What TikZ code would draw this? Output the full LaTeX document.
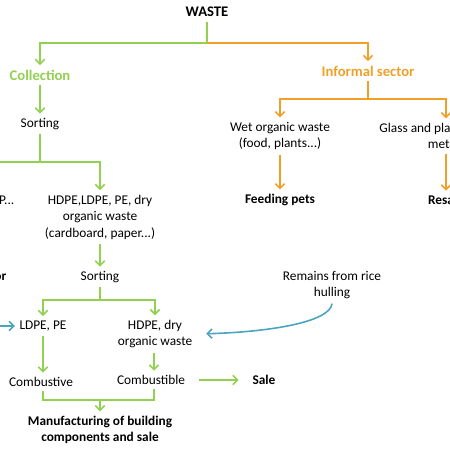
\documentclass[tikz,border=0pt]{standalone}
\usepackage{fontspec}
\setmainfont{Carlito}
\usetikzlibrary{arrows.meta}
\definecolor{grn}{RGB}{146,208,80}
\definecolor{org}{RGB}{240,160,40}
\definecolor{blu}{RGB}{75,165,190}
\tikzset{>={Straight Barb[length=3.5pt,width=7pt]}}
\tikzset{
  txt/.style={font=\fontsize{10}{12.4}\selectfont, align=center},
  bld/.style={font=\fontsize{10}{12.4}\selectfont\bfseries, align=center},
  head/.style={font=\fontsize{11}{13}\selectfont\bfseries},
  gline/.style={draw=grn, line width=1.2pt},
  garr/.style={gline, ->},
  oline/.style={draw=org, line width=1.2pt},
  oarr/.style={oline, ->},
  barr/.style={draw=blu, line width=1.2pt, ->},
}

\begin{document}
\begin{tikzpicture}[x=0.75pt,y=-0.75pt]
\useasboundingbox (0,0) rectangle (450,450);
\clip (0,0) rectangle (450,450);
\node[head] (waste) at (207,12) {WASTE};
\coordinate (wj) at (207,43);
\node[head, text=grn] (coll) at (40,75) {Collection};
\node[head, text=org] (inf) at (368,71) {Informal sector};
\draw[gline] (waste) -- (wj);
\draw[garr] (wj) -| (coll);
\draw[oarr] (wj) -| (inf);
% collection side
\node[txt] (sort1) at (40,124) {Sorting};
\draw[garr] (coll) -- (sort1);
\coordinate (j1) at (40,162);
\node[txt, anchor=east] (pet) at (19,201) {PVC, PET, PP...};
\node[txt] (hdpe) at (100,217) {HDPE,LDPE, PE, dry\\organic waste\\(cardboard, paper...)};
\draw[gline] (sort1) -- (j1);
\draw[garr] (j1) -| (hdpe);
\draw[garr] (j1) -| (pet);
\node[bld, anchor=east] (recyc) at (11,277) {Recycling sector};
\node[txt] (sort2) at (100,277) {Sorting};
\draw[garr] (hdpe) -- (sort2);
\coordinate (j3) at (100,300);
\node[txt] (ldpe) at (43,326) {LDPE, PE};
\node[txt] (hdpe2) at (155,334) {HDPE, dry\\organic waste};
\draw[gline] (sort2) -- (j3);
\draw[garr] (j3) -| (ldpe);
\draw[garr] (j3) -| (hdpe2);
\node[txt] (comb1) at (41,382) {Combustive};
\node[txt] (comb2) at (151,380) {Combustible};
\draw[garr] (ldpe) -- (ldpe |- comb1.north);
\draw[garr] (hdpe2.south -| 154,0) -- (154,0 |- comb2.north);
\node[bld] (sale) at (264,380) {Sale};
\draw[garr, shorten <=7pt, shorten >=7pt] (comb2) -- (sale);
\coordinate (j4) at (100,400);
\node[bld] (manu) at (100,430) {Manufacturing of building\\components and sale};
\draw[gline] (comb1.south -| ldpe) -- (ldpe |- j4) -- (154,0 |- j4) -- (154,0 |- comb2.south);
\draw[garr] (j4) -- (manu);
% rice husk input
\node[txt] (rice) at (332,285) {Remains from rice\\hulling};
\draw[barr, shorten >=7pt] (rice.south) .. controls (330,322) and (270,332) .. (hdpe2.east);
\coordinate (bl) at (-30,326);
\draw[barr] (bl) -- (ldpe);
% informal side
\coordinate (j2) at (368,99);
\node[txt] (wet) at (280,136) {Wet organic waste\\(food, plants...)};
\node[txt] (glass) at (446,136) {Glass and plastic bottles,\\metals};
\draw[oline] (inf) -- (j2);
\draw[oarr] (j2) -| (wet);
\draw[oarr] (j2) -| (glass);
\node[bld] (feed) at (280,200) {Feeding pets};
\node[bld] (resale) at (446,200) {Resale};
\draw[oarr] (wet) -- (feed);
\draw[oarr] (glass) -- (resale);
\end{tikzpicture}
\end{document}
